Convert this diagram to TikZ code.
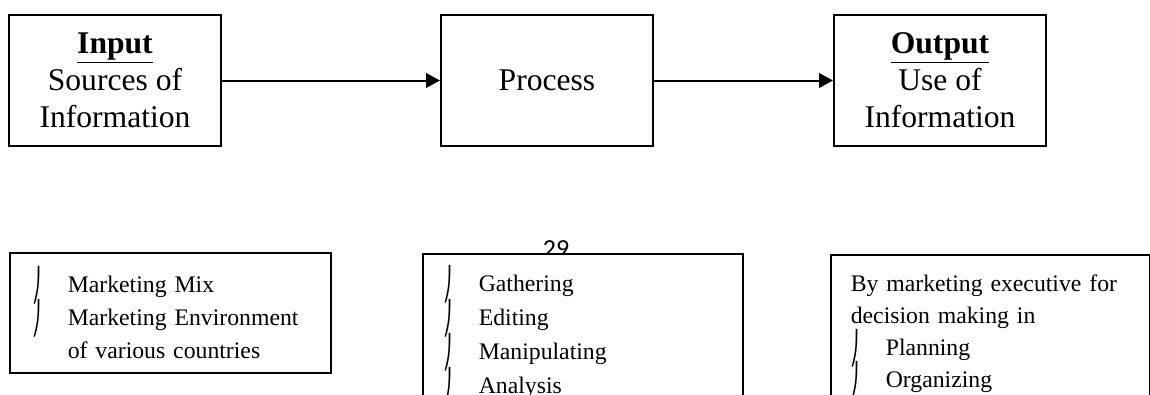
\documentclass[tikz,border=0pt]{standalone}
\usepackage{fontspec}
\setmainfont{Liberation Serif}
\newfontfamily\pagenumfont{Carlito}
\newfontfamily\bulfont{DejaVu Sans}
\usetikzlibrary{arrows.meta,positioning}
\newcommand{\bul}{\makebox[26.25pt][l]{\raisebox{-3pt}[0pt][0pt]{\scalebox{0.75}[1.35]{\bulfont ⎠}}}}
\newcommand{\tallline}[1]{\rule{0pt}{#1}}
\newcommand{\deepline}[1]{\rule[-#1]{0pt}{#1}}

\begin{document}
\begin{tikzpicture}[x=0.75pt,y=-0.75pt,>={Triangle[length=10.5pt,width=11pt]},
  topbox/.style={draw,line width=1.5pt,minimum width=159pt,minimum height=98.25pt,inner sep=0pt,align=center,font=\fontsize{23.7}{27.75}\selectfont},
  listbox/.style={draw,fill=white,line width=1.2pt,inner ysep=0pt,align=left}]
\useasboundingbox (0,0) rectangle (1150,394);
\node[topbox,anchor=north west] (input) at (8,14) {\underline{\textbf{Input}}\\Sources of\\Information};
\node[topbox,right=163.5pt of input] (process) {Process};
\node[topbox,right=134.25pt of process] (output) {\underline{\textbf{Output}}\\Use of\\Information};
\draw[->,line width=1.5pt] (input)--(process); \draw[->,line width=1.5pt] (process)--(output);
\node[anchor=base,font=\pagenumfont\fontsize{19.5}{20}\selectfont] (pagenum) at (556,257) {29};
% lists under the boxes
\node[listbox,anchor=north west,inner xsep=17.25pt,text width=206.25pt,minimum height=90pt,font=\fontsize{17.8}{24.75}\selectfont] (sources) at (9,252) {\tallline{25.5pt}\bul Marketing Mix\\\bul Marketing Environment\\\hspace*{26.25pt}of various countries\deepline{6pt}};
\node[listbox,anchor=north west,inner xsep=15.75pt,text width=208.5pt,minimum height=111.75pt,font=\fontsize{17.8}{25.5}\selectfont] (steps) at (422,253) {\tallline{27.75pt}\bul Gathering\\\bul Editing\\\bul Manipulating\\\bul Analysis\deepline{6pt}};
\node[listbox,anchor=north west,inner xsep=15pt,text width=209.25pt,minimum height=117.75pt,font=\fontsize{17.8}{24}\selectfont] (uses) at (830,254) {\tallline{21pt}By marketing executive for\\decision making in\\\bul Planning\\\bul Organizing\deepline{11.25pt}};
\end{tikzpicture}
\end{document}
